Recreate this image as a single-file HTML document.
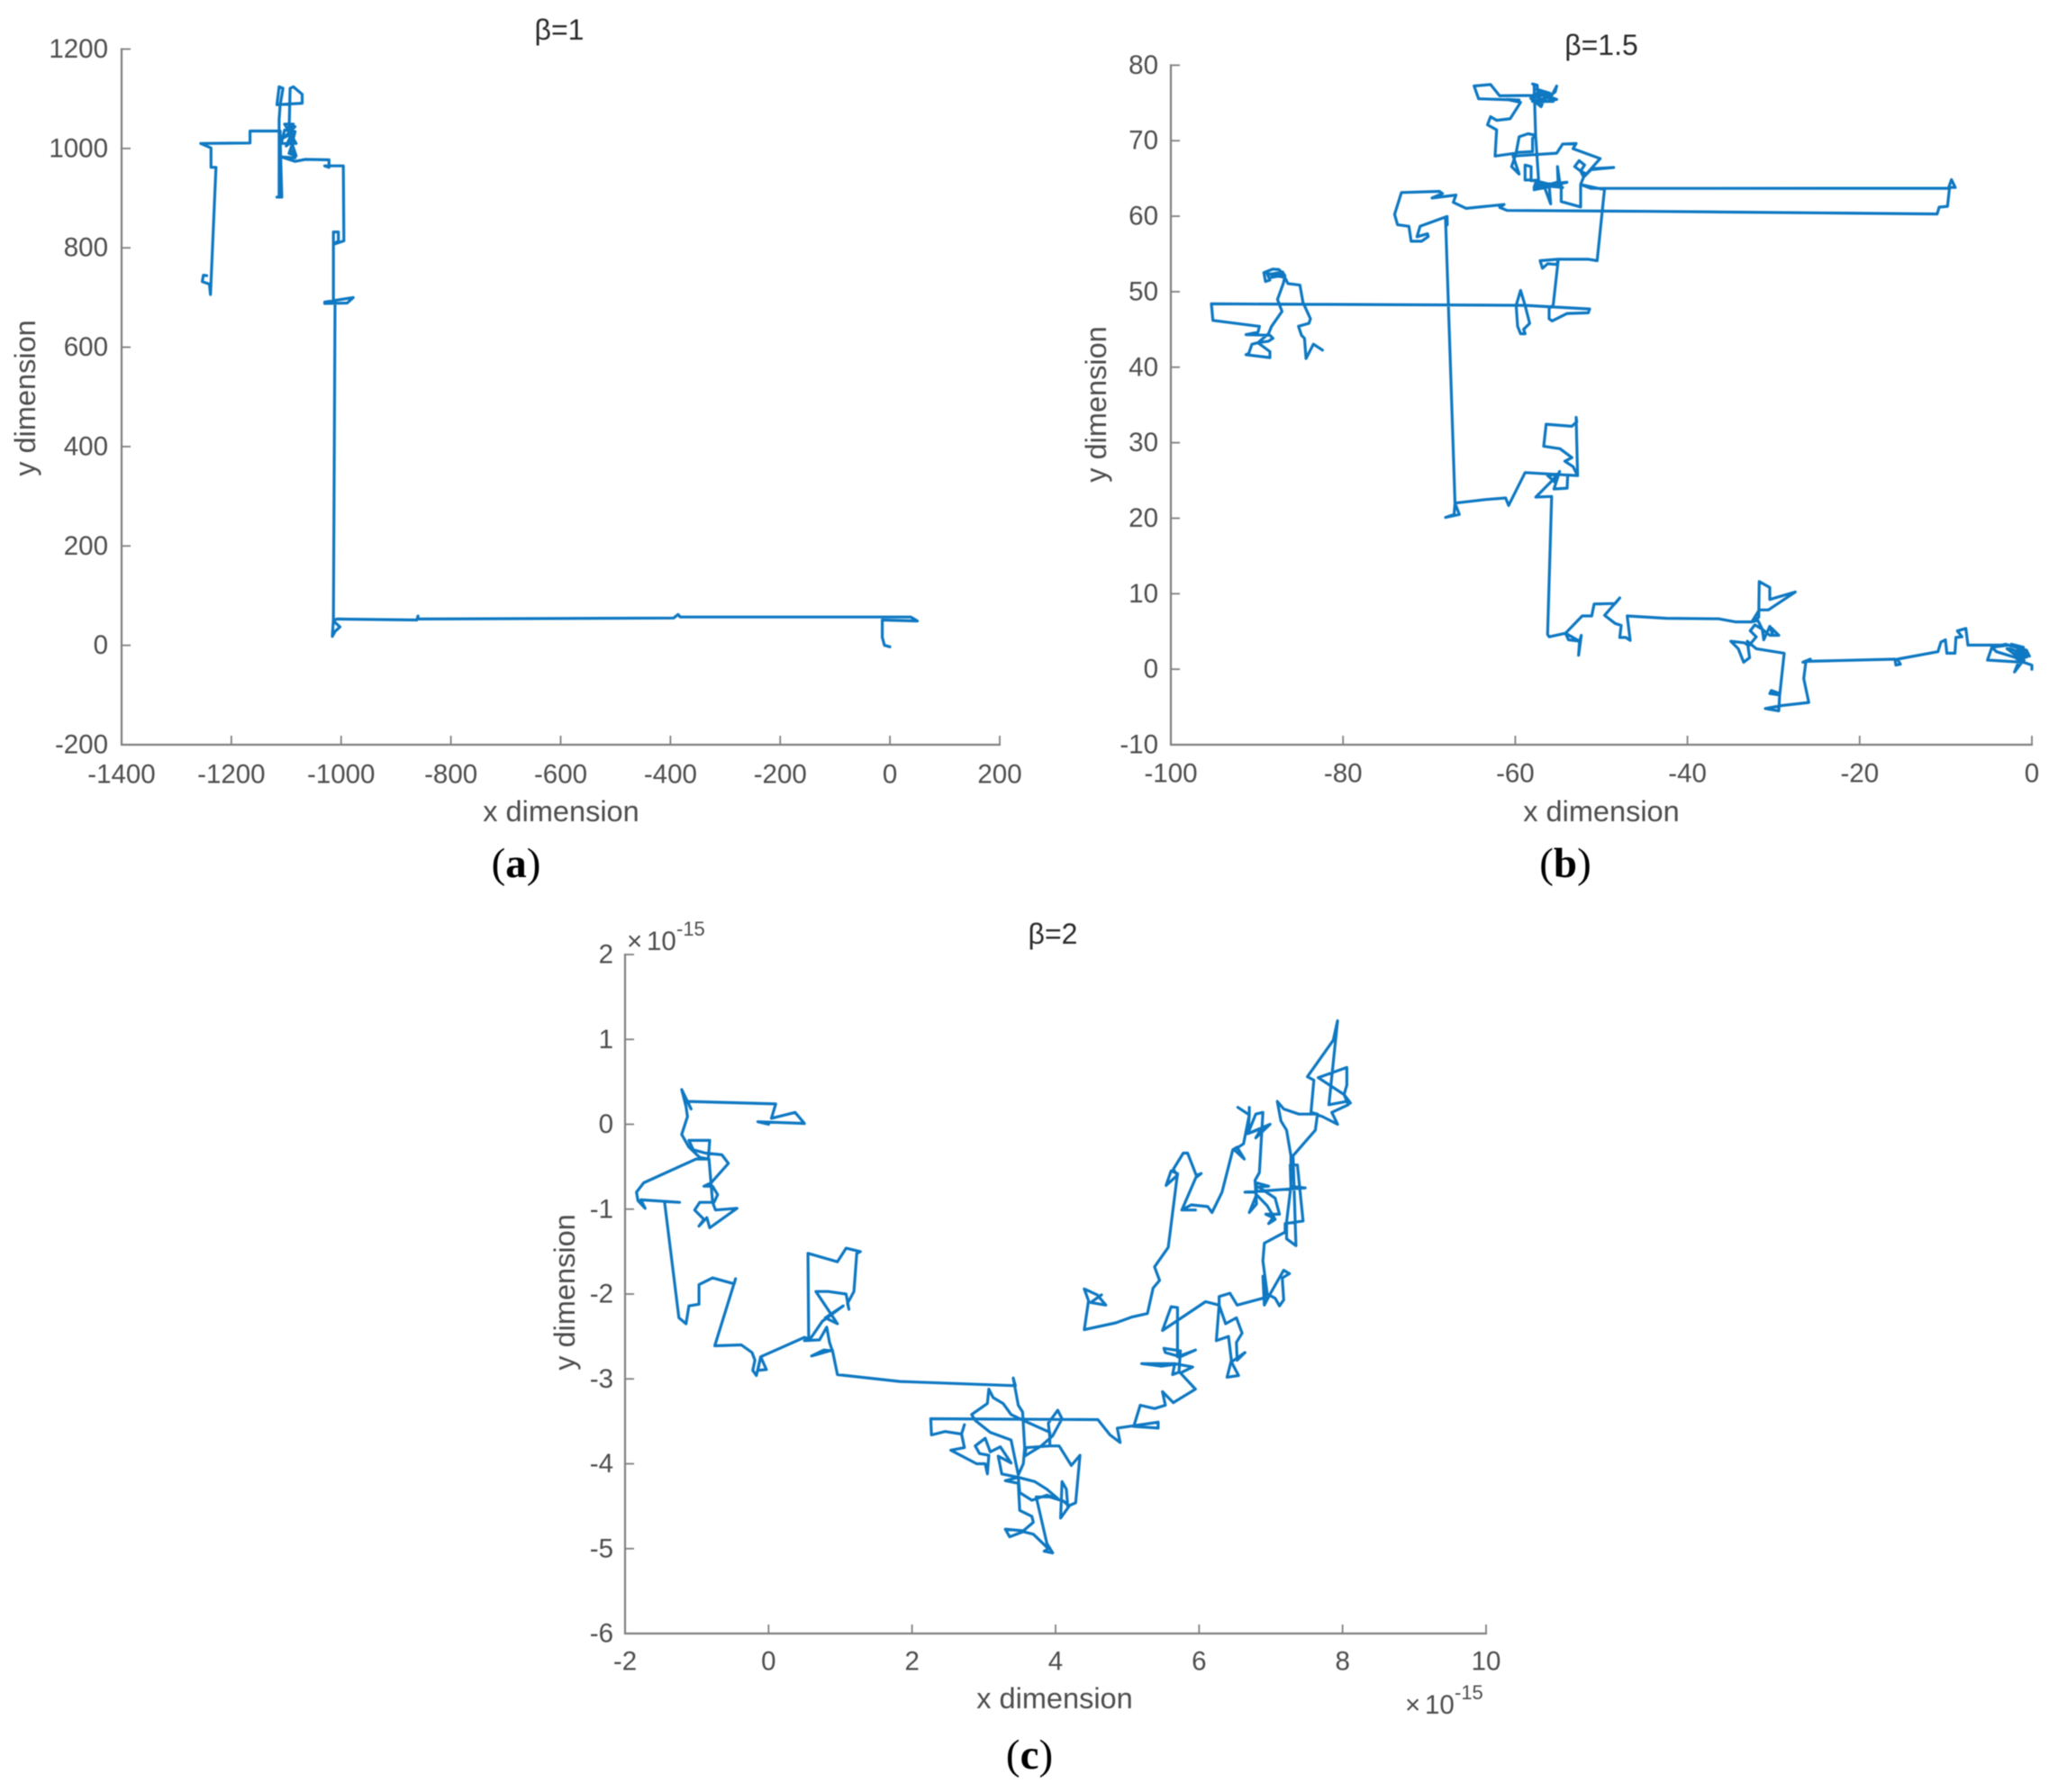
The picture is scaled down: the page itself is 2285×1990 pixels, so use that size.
<!DOCTYPE html>
<html lang="en">
<head>
<meta charset="utf-8">
<title>Random walk trajectories</title>
<style>
html,body{margin:0;padding:0;background:#fff;}
svg{display:block;font-family:"Liberation Sans",Arial,sans-serif;filter:blur(0.5px);}
.tick-text{font-size:29.5px;fill:#4d4d4d;}
.axis-title{font-size:32.5px;fill:#4d4d4d;text-anchor:middle;dominant-baseline:central;}
.plot-title{font-size:32px;fill:#2b2b2b;text-anchor:middle;dominant-baseline:central;}
.caption{font-family:"Liberation Serif",serif;font-size:47px;fill:#000;text-anchor:middle;dominant-baseline:central;}
.exp{fill:#4d4d4d;font-size:29.5px;}
.exp-small{fill:#4d4d4d;font-size:22px;}
</style>
</head>
<body>
<svg id="figure" xmlns="http://www.w3.org/2000/svg" width="2285" height="1990" viewBox="0 0 2285 1990">
  <rect x="0" y="0" width="2285" height="1990" fill="#fff"/>
  <g id="chart-a"></g>
  <g id="chart-b"></g>
  <g id="chart-c"></g>

  <text class="plot-title" x="621" y="33">β=1</text>
  <text class="axis-title" x="623" y="901">x dimension</text>
  <text class="axis-title" transform="translate(28 442) rotate(-90)">y dimension</text>
  <text class="caption" x="573" y="959">(<tspan font-weight="bold">a</tspan>)</text>

  <text class="plot-title" x="1778" y="50">β=1.5</text>
  <text class="axis-title" x="1778" y="901">x dimension</text>
  <text class="axis-title" transform="translate(1217 449) rotate(-90)">y dimension</text>
  <text class="caption" x="1738" y="959">(<tspan font-weight="bold">b</tspan>)</text>

  <text class="plot-title" x="1169" y="1037">β=2</text>
  <text class="axis-title" x="1171" y="1886">x dimension</text>
  <text class="axis-title" transform="translate(627 1435) rotate(-90)">y dimension</text>
  <text class="caption" x="1143" y="1949">(<tspan font-weight="bold">c</tspan>)</text>

  <g>
    <text class="exp" x="696" y="1055">×</text>
    <text class="exp" x="718" y="1055">10</text>
    <text class="exp-small" x="751" y="1039">-15</text>
  </g>
  <g>
    <text class="exp" x="1560" y="1903">×</text>
    <text class="exp" x="1582" y="1903">10</text>
    <text class="exp-small" x="1615" y="1887">-15</text>
  </g>
</svg>
<script>
// Chart (a): beta = 1
var aXTicks = [-1400,-1200,-1000,-800,-600,-400,-200,0,200];
var aYTicks = [-200,0,200,400,600,800,1000,1200];
var aPath = [[0,-3],[-10,0],[-14,16],[-14,51],[50,49],[38,57],[-382,57],[-386,62],[-394,55],[-860,53],[-860,59],[-862,51],[-1008,53],[-1014,49],[-1002,37],[-1011,28],[-1016,18],[-1014,53],[-1011,691],[-1030,691],[-978,700],[-989,689],[-1030,688],[-1014,691],[-1014,832],[-1005,832],[-1005,814],[-1014,807],[-995,814],[-996,965],[-1030,965],[-1022,962],[-1022,977],[-1065,978],[-1084,974],[-1109,983],[-1084,981],[-1092,998],[-1084,1034],[-1103,1037],[-1109,1010],[-1082,1010],[-1103,1049],[-1087,1049],[-1098,1040],[-1084,1044],[-1104,1022],[-1090,1030],[-1100,1005],[-1086,1018],[-1095,990],[-1082,985],[-1095,1028],[-1093,1121],[-1087,1124],[-1071,1109],[-1071,1091],[-1117,1088],[-1113,1124],[-1106,1121],[-1111,1088],[-1113,1058],[-1113,902],[-1117,902],[-1108,902],[-1111,1016],[-1111,1035],[-1166,1035],[-1166,1011],[-1256,1010],[-1237,1001],[-1237,962],[-1228,962],[-1238,706],[-1240,727],[-1253,732],[-1251,745],[-1245,744]];

// Chart (b): beta = 1.5
var bXTicks = [-100,-80,-60,-40,-20,0];
var bYTicks = [-10,0,10,20,30,40,50,60,70,80];
var bPath = [[0,0],[0,0.54],[-1.5,1.13],[-2.02,-0.37],[-1.15,0.93],[-5.16,1.21],[-4.64,2.91],[-3.07,3.31],[-0.63,2.51],[-0.28,1.73],[-2.37,3.31],[-0.98,2.91],[-1.5,1.53],[-2.89,2.71],[-2.5,2.7],[-0.8,2],[-2.2,2.1],[-0.6,1.6],[-1.8,1.4],[-0.9,1.2],[-4.11,2.32],[-4.64,2.91],[-2.72,3.19],[-7.43,3.19],[-7.67,5.4],[-8.65,5.08],[-8.12,4.29],[-8.82,4.22],[-8.93,2.12],[-9.87,2.12],[-10.04,3.9],[-10.56,3.58],[-10.91,2.32],[-15.62,1.33],[-15.27,0.66],[-15.8,0.54],[-15.9,1.33],[-26.08,1.05],[-26.6,0.93],[-25.73,1.33],[-26.26,0.93],[-26.5,-1.24],[-25.91,-4.41],[-29.04,-4.81],[-30.96,-5.2],[-29.39,-5.52],[-29.29,-3.22],[-30.26,-2.82],[-30.44,-3.22],[-29.29,-3.42],[-28.77,2.12],[-32.01,2.71],[-33.05,3.7],[-32.78,1.53],[-33.47,0.93],[-34.1,2.71],[-34.97,3.7],[-33.4,3.5],[-32.88,3.11],[-32.01,4.29],[-32.71,5.09],[-32.18,5.88],[-31.31,5.28],[-31.14,3.9],[-30.44,5.68],[-30.09,4.49],[-30.26,5.48],[-29.39,4.49],[-30.44,4.49],[-31.31,5.28],[-31.83,6.47],[-32.53,6.27],[-31.66,7.85],[-30.61,7.85],[-27.48,10.23],[-30.44,9.24],[-30.44,10.82],[-31.66,11.61],[-31.73,6.86],[-32.53,6.27],[-34.45,6.27],[-36.37,6.67],[-42.47,6.74],[-47,7.06],[-46.65,3.82],[-47.17,4.21],[-47.87,4.21],[-47.7,5.8],[-48.4,6.07],[-49.62,7.14],[-47.87,9.44],[-48.4,8.7],[-50.84,8.64],[-51.12,7.06],[-52.23,7.06],[-54.16,4.77],[-53.82,3.9],[-52.53,3.7],[-52.33,4.49],[-52.65,1.84],[-52.53,3.7],[-54.16,4.77],[-56.07,4.29],[-56.25,4.61],[-55.77,22.88],[-57.62,22.8],[-55.9,24.77],[-55.03,25.84],[-56.25,25.65],[-55.38,24.77],[-54.85,26.2],[-55.5,23.87],[-53.98,23.98],[-53.91,25.72],[-52.76,25.64],[-53.28,26.83],[-54.25,27.54],[-53.42,28.02],[-54.8,29.2],[-56.69,29.52],[-56.41,32.45],[-53.44,32.17],[-52.86,32.77],[-52.93,33.35],[-52.76,25.64],[-58.86,26.04],[-60.77,21.69],[-61.12,22.68],[-63.39,22.48],[-67,22],[-67.1,20.5],[-68.1,20.1],[-66.5,20.5],[-67,22],[-68.1,59.65],[-67.9,58.85],[-67.92,59.96],[-71.06,58.66],[-71.41,57.28],[-70.2,57.67],[-70.1,57.3],[-70.88,56.68],[-72.09,56.68],[-72.35,58.66],[-73.67,58.86],[-74.02,60.24],[-73.22,63.13],[-68.8,63.29],[-68.45,63],[-69.67,62.41],[-66.88,62.8],[-67.2,61.83],[-65.7,61.04],[-61.3,61.55],[-61.8,61.15],[-60.95,60.76],[-44.56,60.64],[-11,60.3],[-10.76,61.2],[-9.8,61.3],[-9.56,63.8],[-8.9,63.8],[-9.34,64.84],[-9.7,63.7],[-51.19,63.68],[-52.41,64.2],[-52.41,61.23],[-54.67,61.94],[-54.67,64.2],[-55.02,64.4],[-55.09,66.57],[-54.85,64.6],[-56.07,64.2],[-55.89,61.63],[-56.59,63.8],[-57.81,63.8],[-57.64,64.4],[-54.67,64.2],[-57.81,63.5],[-54,64.5],[-57.5,64.1],[-54.5,63.8],[-57.29,64.6],[-58.16,64.79],[-58.86,64.79],[-58.86,66.77],[-58.16,66.57],[-58.16,64.71],[-57.29,64.79],[-57.64,70.72],[-58.51,70.92],[-59.55,70.52],[-59.9,68.43],[-57.99,68.55],[-57.99,70.32],[-57.64,70.72],[-57.81,77.44],[-57.99,77.52],[-57.46,77.36],[-57.29,74.87],[-57.11,76.26],[-55.19,75.47],[-57.11,75.07],[-55.37,76.46],[-55.19,77.25],[-55.72,76.06],[-57.81,76.26],[-56,75.8],[-58,75.2],[-55.6,75.2],[-57.5,76.8],[-56,76.3],[-58.2,75.6],[-57,74.5],[-56.5,76],[-61.82,75.94],[-62.87,77.44],[-64.78,77.25],[-64.26,75.55],[-59.55,75.39],[-60.95,75.47],[-59.38,75.07],[-60.6,72.9],[-62.17,72.7],[-62.87,73.18],[-63.22,72.11],[-62.17,71.44],[-62.34,67.96],[-59.9,68.35],[-60.43,66.57],[-59.55,65.58],[-60.25,67.96],[-55.19,68.35],[-54.5,69.55],[-52.93,69.63],[-53.28,68.94],[-50.14,67.63],[-52.06,65.18],[-52.41,65.97],[-53.1,66.57],[-52.58,67.36],[-51.95,66.77],[-52.41,65.97],[-51.7,65.58],[-51.19,66.29],[-48.57,66.45],[-51.19,66.17],[-52.06,65.18],[-52.41,64.2],[-49.99,63.6],[-49.62,63.68],[-50.49,54.11],[-51.5,54.3],[-55.02,54.3],[-57.11,54.11],[-56.84,53.1],[-56.25,53.7],[-55.2,53.6],[-55.02,54.1],[-55.6,48.2],[-56.07,47.79],[-56.07,46.41],[-55.72,46.13],[-53.97,47.12],[-51.53,47.2],[-51.36,47.71],[-58.86,48.19],[-59.38,50.17],[-59.9,48.19],[-59.73,45.42],[-59.38,44.43],[-58.86,44.43],[-59.03,45.02],[-58.33,45.81],[-58.86,48.19],[-95.29,48.39],[-95.12,46.2],[-89.71,45.41],[-89.89,44.62],[-91.28,44.31],[-88.49,44.23],[-88.14,43.83],[-88.66,43.44],[-89.89,43.24],[-90.59,43.04],[-90.94,41.86],[-91.28,41.66],[-88.49,41.27],[-88.49,42.06],[-89.89,43.24],[-88.66,44.43],[-88.31,45.41],[-87.09,47.39],[-87.62,48.97],[-86.92,51.15],[-86.75,52.14],[-87.45,52.93],[-88.14,53],[-89.19,52.53],[-89.01,51.35],[-88.49,51.54],[-88.84,52.45],[-86.92,51.94],[-88.3,52.2],[-86.9,52.4],[-88.5,52.3],[-87,52.6],[-88.3,51.9],[-86.9,52.2],[-86.4,51.08],[-85.01,50.88],[-84.66,48.58],[-83.79,46.41],[-83.96,45.81],[-85.18,45.42],[-84.83,44.23],[-84.48,43.83],[-84.3,41.15],[-83.44,43.05],[-82.39,42.26]];

// Chart (c): beta = 2 (values in units of 1e-15)
var cXTicks = [-2,0,2,4,6,8,10];
var cYTicks = [-6,-5,-4,-3,-2,-1,0,1,2];
var cPath = [[0,0],[-0.15,0.03],[0.5,0.01],[0.37,0.14],[0.04,0.07],[0.1,0.24],[-1.13,0.27],[-1.08,0.18],[-1.21,0.41],[-1.15,0.21],[-1.13,0.09],[-1.21,-0.12],[-1.11,-0.27],[-0.96,-0.39],[-0.84,-0.41],[-0.82,-0.19],[-1.11,-0.19],[-1.05,-0.3],[-0.88,-0.34],[-0.65,-0.36],[-0.56,-0.46],[-0.8,-0.69],[-0.9,-0.73],[-0.78,-0.73],[-0.71,-0.83],[-0.76,-0.92],[-0.96,-0.92],[-1.03,-1.01],[-0.9,-1.12],[-0.97,-1.2],[-0.86,-1.1],[-0.82,-1.22],[-0.44,-0.99],[-0.74,-1.01],[-0.78,-0.92],[-0.83,-0.41],[-1.01,-0.41],[-1.74,-0.69],[-1.84,-0.8],[-1.82,-0.9],[-1.72,-0.99],[-1.78,-0.89],[-1.24,-0.92],[-1.45,-0.91],[-1.25,-2.28],[-1.15,-2.35],[-1.11,-2.14],[-0.97,-2.12],[-0.97,-1.89],[-0.78,-1.81],[-0.48,-1.88],[-0.46,-1.82],[-0.75,-2.61],[-0.38,-2.6],[-0.23,-2.69],[-0.19,-2.78],[-0.22,-2.9],[-0.17,-2.96],[-0.11,-2.74],[-0.03,-2.89],[-0.15,-2.9],[-0.11,-2.74],[0.5,-2.51],[0.56,-2.53],[0.55,-1.52],[0.96,-1.62],[1.08,-1.46],[1.28,-1.5],[1.23,-1.52],[1.19,-1.97],[1.1,-2.11],[1.12,-2.18],[1.08,-2],[0.83,-1.97],[0.66,-1.97],[0.96,-2.35],[0.79,-2.28],[1.04,-2.14],[0.75,-2.32],[0.58,-2.53],[0.5,-2.55],[0.71,-2.54],[0.81,-2.39],[0.85,-2.57],[0.89,-2.67],[0.77,-2.66],[0.6,-2.73],[0.89,-2.66],[0.96,-2.95],[1.83,-3.03],[3.44,-3.08],[3.41,-2.99],[3.48,-3.31],[3.54,-3.39],[3.57,-3.81],[3.55,-4],[3.48,-4.13],[3.38,-3.72],[3.09,-3.63],[2.88,-3.49],[2.83,-3.42],[3.05,-3.29],[3.07,-3.12],[3.13,-3.22],[3.27,-3.29],[3.38,-3.42],[3.55,-3.49],[3.92,-3.63],[3.92,-3.79],[3.59,-3.81],[3.57,-3.91],[3.8,-3.79],[3.96,-3.67],[4.09,-3.47],[4.03,-3.37],[3.9,-3.52],[3.92,-3.68],[3.92,-3.79],[4.05,-3.79],[4.22,-4.02],[4.34,-3.9],[4.28,-4.46],[4.17,-4.5],[4.15,-4.3],[4.09,-4.21],[4.07,-4.64],[4.19,-4.5],[4.11,-4.44],[3.92,-4.39],[3.73,-4.39],[3.88,-4.94],[3.96,-5.05],[3.84,-5.03],[3.9,-5],[3.69,-4.83],[3.55,-4.8],[3.36,-4.86],[3.3,-4.77],[3.55,-4.79],[3.69,-4.69],[3.67,-4.62],[3.5,-4.55],[3.48,-4.23],[3.3,-4.2],[3.48,-4.16],[3.71,-4.21],[3.88,-4.3],[4.03,-4.41],[3.88,-4.37],[3.67,-4.43],[3.5,-4.34],[3.48,-4.16],[3.25,-4.12],[3.2,-3.91],[3.38,-3.99],[3.23,-3.8],[3.09,-3.86],[3.02,-3.7],[2.88,-3.79],[2.94,-3.88],[3.07,-3.9],[3.05,-4.12],[3.02,-4],[2.9,-4],[2.54,-3.84],[2.73,-3.81],[2.69,-3.65],[2.73,-3.54],[2.69,-3.65],[2.46,-3.62],[2.27,-3.66],[2.26,-3.47],[4.59,-3.48],[4.76,-3.66],[4.9,-3.75],[4.86,-3.58],[5.43,-3.51],[5.43,-3.58],[5.09,-3.56],[5.18,-3.31],[5.38,-3.35],[5.53,-3.31],[5.49,-3.15],[5.64,-3.28],[5.95,-3.12],[5.74,-2.93],[5.91,-2.86],[5.66,-2.82],[5.2,-2.82],[5.47,-2.85],[5.66,-2.83],[5.63,-2.95],[5.72,-2.92],[5.74,-2.67],[5.51,-2.64],[5.53,-2.69],[5.74,-2.74],[5.95,-2.66],[5.7,-2.74],[5.7,-2.16],[5.61,-2.15],[5.49,-2.43],[6.09,-2.09],[6.28,-2.13],[6.37,-2.35],[6.52,-2.28],[6.6,-2.46],[6.52,-2.57],[6.53,-2.78],[6.64,-2.69],[6.45,-2.8],[6.55,-2.96],[6.39,-2.98],[6.45,-2.78],[6.41,-2.5],[6.24,-2.55],[6.28,-2.13],[6.28,-2.03],[6.43,-1.99],[6.53,-2.13],[6.93,-2.04],[6.89,-1.79],[6.91,-2.13],[6.99,-2],[7.18,-1.72],[7.26,-1.76],[7.16,-1.81],[7.18,-2.07],[7.12,-2.14],[7.06,-2.05],[6.95,-2],[6.89,-1.61],[6.91,-1.4],[7.2,-1.27],[7.2,-1.17],[7.45,-1.14],[7.37,-0.48],[7.27,-0.48],[7.28,-0.73],[7.22,-1.15],[7.22,-1.35],[7.35,-1.43],[7.31,-0.37],[7.62,-0.07],[7.65,0.12],[7.56,0.14],[7.6,0.52],[7.51,0.56],[7.87,0.99],[7.93,1.22],[7.81,0.23],[8.06,0.27],[8.11,0.25],[8.02,0.35],[7.66,0.55],[8.06,0.67],[8.06,0.46],[8.02,0.35],[8.08,0.23],[7.85,0.14],[7.93,0],[7.72,0.09],[7.62,0.12],[7.39,0.12],[7.18,0.18],[7.09,0.27],[7.14,0.04],[7.22,-0.07],[7.28,-0.37],[7.28,-0.73],[7.48,-0.75],[6.64,-0.8],[6.8,-0.8],[6.8,-0.69],[6.97,-0.73],[6.83,-0.74],[7.06,-0.87],[7.12,-1.06],[6.93,-1.06],[7.03,-1.1],[6.97,-1.17],[7.06,-1.12],[6.95,-0.96],[6.8,-0.83],[6.7,-1.04],[6.8,-0.94],[6.78,-0.66],[6.84,-0.57],[6.89,0.14],[6.79,0.12],[6.68,-0.11],[6.99,0],[6.79,-0.16],[6.87,-0.05],[6.68,-0.11],[6.7,0.11],[6.7,0.2],[6.7,0.11],[6.54,0.2],[6.7,0.11],[6.62,-0.23],[6.49,-0.3],[6.63,-0.41],[6.53,-0.27],[6.47,-0.3],[6.32,-0.8],[6.18,-1.04],[6.12,-0.97],[5.89,-0.95],[5.76,-1.01],[5.95,-1.01],[5.76,-1.01],[5.97,-0.6],[6.03,-0.58],[5.97,-0.62],[5.84,-0.34],[5.78,-0.34],[5.64,-0.53],[5.7,-0.6],[5.54,-0.72],[5.61,-0.55],[5.7,-0.58],[5.57,-1.45],[5.38,-1.68],[5.45,-1.84],[5.36,-1.93],[5.28,-2.23],[5.07,-2.27],[4.84,-2.34],[4.4,-2.42],[4.46,-2.08],[4.4,-1.94],[4.58,-2.01],[4.7,-2.13],[4.49,-2.1],[4.64,-2.01]];

var AXIS_COLOR = '#808080';
var LINE_COLOR = '#0e78c2';
var SVG_NS = 'http://www.w3.org/2000/svg';

function linearScale(domain0, domain1, range0, range1) {
  return function (v) {
    return range0 + (v - domain0) / (domain1 - domain0) * (range1 - range0);
  };
}

function drawChart(groupId, xTicks, yTicks, path, left, right, top, bottom, xLabelY, yLabelX) {
  var group = document.getElementById(groupId);
  var xScale = linearScale(xTicks[0], xTicks[xTicks.length - 1], left, right);
  var yScale = linearScale(yTicks[0], yTicks[yTicks.length - 1], bottom, top);

  var xAxis = document.createElementNS(SVG_NS, 'line');
  
  
  xAxis.setAttribute('x1', left - 1);
  xAxis.setAttribute('x2', right + 1);
  xAxis.setAttribute('y1', bottom);
  xAxis.setAttribute('y2', bottom);
  xAxis.setAttribute('stroke', AXIS_COLOR);
  xAxis.setAttribute('stroke-width', '2.2');
  group.appendChild(xAxis);

  var yAxis = document.createElementNS(SVG_NS, 'line');
  
  
  yAxis.setAttribute('x1', left);
  yAxis.setAttribute('x2', left);
  yAxis.setAttribute('y1', top - 1);
  yAxis.setAttribute('y2', bottom + 1);
  yAxis.setAttribute('stroke', AXIS_COLOR);
  yAxis.setAttribute('stroke-width', '2.2');
  group.appendChild(yAxis);

  xTicks.forEach(function (t) {
    var mark = document.createElementNS(SVG_NS, 'line');
    
    
    mark.setAttribute('x1', xScale(t));
    mark.setAttribute('x2', xScale(t));
    mark.setAttribute('y1', bottom);
    mark.setAttribute('y2', bottom - 10);
    mark.setAttribute('stroke', AXIS_COLOR);
    mark.setAttribute('stroke-width', '1.8');
    group.appendChild(mark);
    var label = document.createElementNS(SVG_NS, 'text');
    
    
    label.setAttribute('class', 'tick-text');
    label.setAttribute('x', xScale(t));
    label.setAttribute('y', xLabelY);
    label.setAttribute('text-anchor', 'middle');
    label.setAttribute('dominant-baseline', 'central');
    label.textContent = String(t);
    group.appendChild(label);
  });

  yTicks.forEach(function (t) {
    var mark = document.createElementNS(SVG_NS, 'line');
    
    
    mark.setAttribute('x1', left);
    mark.setAttribute('x2', left + 10);
    mark.setAttribute('y1', yScale(t));
    mark.setAttribute('y2', yScale(t));
    mark.setAttribute('stroke', AXIS_COLOR);
    mark.setAttribute('stroke-width', '1.8');
    group.appendChild(mark);
    var label = document.createElementNS(SVG_NS, 'text');
    
    
    label.setAttribute('class', 'tick-text');
    label.setAttribute('x', yLabelX);
    label.setAttribute('y', yScale(t));
    label.setAttribute('text-anchor', 'end');
    label.setAttribute('dominant-baseline', 'central');
    label.textContent = String(t);
    group.appendChild(label);
  });

  var line = document.createElementNS(SVG_NS, 'polyline');
  
  
  line.setAttribute('fill', 'none');
  line.setAttribute('stroke', LINE_COLOR);
  line.setAttribute('stroke-width', '3.2');
  line.setAttribute('stroke-linejoin', 'round');
  line.setAttribute('stroke-linecap', 'round');
  line.setAttribute('points', path.map(function (p) {
    return xScale(p[0]).toFixed(1) + ',' + yScale(p[1]).toFixed(1);
  }).join(' '));
  group.appendChild(line);
}

drawChart('chart-a', aXTicks, aYTicks, aPath, 135, 1110, 54.5, 827, 860, 120);
drawChart('chart-b', bXTicks, bYTicks, bPath, 1300, 2256, 72.4, 827, 859, 1286);
drawChart('chart-c', cXTicks, cYTicks, cPath, 694, 1650, 1060, 1814, 1845, 681);
</script>
</body>
</html>
